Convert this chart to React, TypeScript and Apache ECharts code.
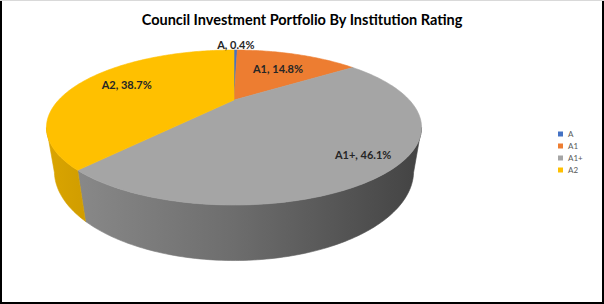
import React, { useEffect, useRef } from "react";
import * as echarts from "echarts";

const titleText = "Council Investment Portfolio By Institution Rating";
const categories = ["A", "A1", "A1+", "A2"];
const values = [0.4, 14.8, 46.1, 38.7];
const topColors = ["#4472C4", "#ED7D31", "#A5A5A5", "#FFC000"];

// perspective projection constants for the 3D disk
const CX = 234;
const CY = 100;
const SIN = 0.3864;
const COS = 0.922;
const FOC = 455.5;
const DIST = 2.598;
const THICK = 0.26;
const labelRadius = [1.15, 0.64, 0.85, 0.71];
const FONT = "Lato";

function project(X: number, Z: number, Y: number): number[] {
  const D = DIST + Z * COS - Y * SIN;
  const up = Z * SIN + Y * COS;
  return [CX + (FOC * X) / D, CY - (FOC * up) / D];
}
const rim = (t: number, Y: number, r = 1) => project(r * Math.sin(t), r * Math.cos(t), Y);

const K = DIST / COS;
const T_SIL = Math.acos(-1 / K);

function shade(hex: string, f: number): string {
  const n = parseInt(hex.slice(1), 16);
  const r = Math.round(((n >> 16) & 255) * f);
  const g = Math.round(((n >> 8) & 255) * f);
  const b = Math.round((n & 255) * f);
  return `rgb(${r},${g},${b})`;
}

export default function App() {
  const ref = useRef<HTMLDivElement>(null);
  useEffect(() => {
    if (!ref.current) return;
    const chart = echarts.init(ref.current, undefined, { renderer: "svg" });
    const total = values.reduce((a, b) => a + b, 0);
    const TWO_PI = Math.PI * 2;

    const renderItem = (params: any) => {
      const i = params.seriesIndex;
      let before = 0;
      for (let k = 0; k < i; k++) before += values[k];
      const start = (before / total) * TWO_PI;
      const end = ((before + values[i]) / total) * TWO_PI;
      const children: any[] = [];
      const n = Math.max(2, Math.ceil((end - start) / (Math.PI / 180)));
      const pts: number[][] = [project(0, 0, 0)];
      for (let k = 0; k <= n; k++) pts.push(rim(start + ((end - start) * k) / n, 0));
      children.push({
        type: "polygon",
        shape: { points: pts },
        style: { fill: topColors[i], stroke: topColors[i], lineWidth: 0.6 },
        z2: 10,
      });
      const a = Math.max(start, T_SIL);
      const b = Math.min(end, TWO_PI - T_SIL);
      if (b > a) {
        const m = Math.max(2, Math.ceil((b - a) / (Math.PI / 180)));
        const sp: number[][] = [];
        for (let k = 0; k <= m; k++) sp.push(rim(a + ((b - a) * k) / m, 0));
        for (let k = m; k >= 0; k--) sp.push(rim(a + ((b - a) * k) / m, -THICK));
        const grad = new echarts.graphic.LinearGradient(
          45, 0, 425, 0,
          [
            { offset: 0, color: shade(topColors[i], 0.86) },
            { offset: 0.5, color: shade(topColors[i], 0.66) },
            { offset: 1, color: shade(topColors[i], 0.4) },
          ],
          true
        );
        children.push({
          type: "polygon",
          shape: { points: sp },
          style: { fill: grad, stroke: grad, lineWidth: 0.6 },
          z2: 1,
        });
      }
      const mid = (start + end) / 2;
      const lp = rim(mid, 0, labelRadius[i]);
      children.push({
        type: "text",
        x: lp[0],
        y: lp[1],
        z2: 20,
        style: {
          text: `${categories[i]}, ${((values[i] / total) * 100).toFixed(1)}%`,
          align: "center",
          verticalAlign: "middle",
          fontFamily: FONT,
          fontWeight: "bold",
          fontSize: 11,
          fill: "#262626",
        },
      });
      return { type: "group", children };
    };

    chart.setOption({
      animation: false,
      backgroundColor: "#ffffff",
      title: {
        text: titleText,
        left: "center",
        top: 7,
        textStyle: { fontFamily: FONT, fontWeight: "bold", fontSize: 14.5, color: "#000000" },
      },
      legend: {
        orient: "vertical",
        left: 553,
        top: 124,
        icon: "rect",
        itemWidth: 5,
        itemHeight: 5,
        itemGap: 2,
        data: categories,
        textStyle: { fontFamily: FONT, fontSize: 8, color: "#595959", lineHeight: 10 },
        selectedMode: false,
      },
      graphic: [
        { type: "line", shape: { x1: 1, y1: 0, x2: 1, y2: 304 }, style: { stroke: "#000", lineWidth: 2 } },
        { type: "line", shape: { x1: 603, y1: 0, x2: 603, y2: 304 }, style: { stroke: "#000", lineWidth: 2 } },
        { type: "line", shape: { x1: 0, y1: 303, x2: 604, y2: 303 }, style: { stroke: "#000", lineWidth: 2 } },
        { type: "line", shape: { x1: 0, y1: 0.5, x2: 604, y2: 0.5 }, style: { stroke: "#d9d9d9", lineWidth: 1 } },
      ],
      series: categories.map((name, i) => ({
        type: "custom",
        name,
        coordinateSystem: "none",
        silent: true,
        itemStyle: { color: topColors[i] },
        data: [values[i]],
        renderItem,
      })),
    });
    return () => chart.dispose();
  }, []);
  return (
    <div
      ref={ref}
      style={{ position: "fixed", left: 0, top: 0, width: 604, height: 304 }}
    />
  );
}
